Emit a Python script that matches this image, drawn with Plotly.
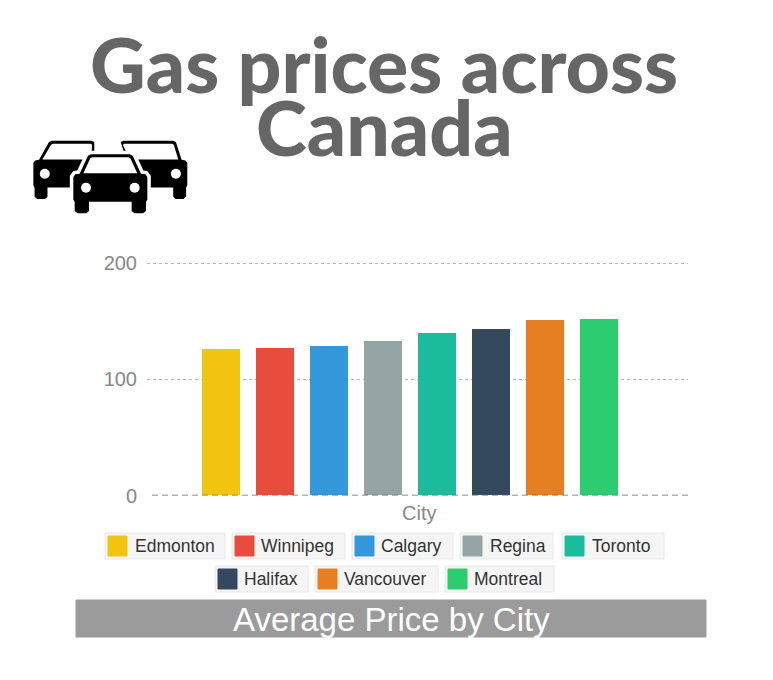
import plotly.graph_objects as go

W = 773
H = 680

cities = ['Edmonton', 'Winnipeg', 'Calgary', 'Regina', 'Toronto', 'Halifax', 'Vancouver', 'Montreal']
prices = [126, 127, 129, 133, 139.5, 143.5, 151, 152]
colors = ['#f1c40f', '#e74c3c', '#3498db', '#95a5a6', '#1abc9c', '#34495e', '#e67e22', '#2ecc71']
y_ticks = [0, 100, 200]

# legend chips drawn by hand, plotly legend can't do the boxed look: left, right, text start, top
chip_left = [105, 232, 352, 460, 562, 215, 315, 445]
chip_right = [225, 345, 453, 553, 664, 308, 438, 554]
chip_text = [133, 259, 379, 488, 590, 242, 342, 472]
chip_top = [533, 533, 533, 533, 533, 566, 566, 566]


def px(x):
    return x / W


def py(y):
    return 1 - y / H


def rect(x0, y0, x1, y1, fill, line=None):
    return dict(type='rect', xref='paper', yref='paper', x0=px(x0), x1=px(x1), y0=py(y0), y1=py(y1),
                fillcolor=fill, line=dict(color=line or fill, width=1), layer='above')


def poly(points, fill, line=None, width=0):
    path = 'M ' + ' L '.join(f'{px(a):.5f},{py(b):.5f}' for a, b in points) + ' Z'
    return dict(type='path', xref='paper', yref='paper', path=path, fillcolor=fill,
                line=dict(color=line or fill, width=width), layer='above')


def dot(cx, cy, r, fill):
    return dict(type='circle', xref='paper', yref='paper', x0=px(cx - r), x1=px(cx + r),
                y0=py(cy - r), y1=py(cy + r), fillcolor=fill, line=dict(width=0), layer='above')


def car(cx, top, sx, sy, roof=(-58, 58), halo=False):
    def p(a, b):
        return cx + a * sx, top + b * sy
    rl, rr = roof
    outer = [p(rl, 0), p(rr, 0), p(rr + 9, 4), p(92, 58), p(105, 60), p(111, 68), p(111, 136),
             p(107, 142), p(107, 170), p(98, 177), p(72, 177), p(64, 170), p(64, 142),
             p(-64, 142), p(-64, 170), p(-72, 177), p(-98, 177), p(-107, 170), p(-107, 142),
             p(-111, 136), p(-111, 68), p(-105, 60), p(-92, 58), p(rl - 9, 4)]
    window = [p(rl + 4, 9), p(rr - 4, 9), p(rr + 2, 12), p(81, 57), p(-81, 57), p(rl - 2, 12)]
    out = []
    if halo:
        out.append(poly(outer, '#ffffff', '#ffffff', 7))
    out.append(poly(outer, '#000000'))
    out.append(poly(window, '#ffffff'))
    out.append(dot(*p(-73, 100), 5, '#ffffff'))
    out.append(dot(*p(73, 100), 5, '#ffffff'))
    return out


fig = go.Figure(go.Bar(x=list(range(len(cities))), y=prices, width=0.704, marker_color=colors,
                       marker_line_width=0, text=cities, textposition='none', hoverinfo='text+y'))

shapes = []
# back cars then front car
shapes += car(20 + 140 / 3, 120 + 62 / 3, 0.3, 0.33, roof=(-50, 83))
shapes += car(20 + 402 / 3, 120 + 62 / 3, 0.3, 0.33, roof=(-102, 64))
shapes += car(20 + 271 / 3, 120 + 103 / 3, 1 / 3, 1 / 3, halo=True)

# banner and zero line
shapes.append(rect(76, 600, 706, 637, '#9b9b9b'))
shapes.append(dict(type='line', xref='paper', yref='y', x0=px(152), x1=px(688), y0=0, y1=0,
                   line=dict(color='#666666', width=1.5, dash='6px,4px'), layer='above'))

annotations = [
    dict(text='Gas prices across', x=px(384), y=py(63), font=dict(family='Lato', size=77, color='#666666', weight=900)),
    dict(text='Canada', x=px(384), y=py(126), font=dict(family='Lato', size=77, color='#666666', weight=900)),
    dict(text='Average Price by City', x=px(391), y=py(619), font=dict(family='Liberation Sans', size=33, color='#ffffff')),
    dict(text='City', x=px(419), y=py(513), font=dict(family='Liberation Sans', size=20, color='#888888')),
]

for i, city in enumerate(cities):
    top = chip_top[i]
    shapes.append(rect(chip_left[i], top, chip_right[i], top + 26, '#f5f5f5', '#e8e8e8'))
    shapes.append(rect(chip_left[i] + 3, top + 3, chip_left[i] + 22, top + 23, colors[i]))
    annotations.append(dict(text=city, x=px(chip_text[i]), y=py(top + 13), xanchor='left',
                            font=dict(family='Liberation Sans', size=17.5, color='#333333')))

for a in annotations:
    a.update(xref='paper', yref='paper', showarrow=False)
    a.setdefault('xanchor', 'center')
    a.setdefault('yanchor', 'middle')

fig.update_layout(
    width=W, height=H, margin=dict(l=0, r=0, t=0, b=0, autoexpand=False), paper_bgcolor='white', plot_bgcolor='white',
    showlegend=False, shapes=shapes, annotations=annotations, bargap=0,
    xaxis=dict(domain=[px(147), px(688)], range=[(147 - 221) / 54, (688 - 221) / 54], showgrid=False,
               zeroline=False, showticklabels=False, ticks=''),
    yaxis=dict(domain=[py(495.5), py(262.3)], range=[0, 201], tickvals=y_ticks, zeroline=False,
               gridcolor='#b5b5b5', griddash='dot', gridwidth=1, ticks='outside', ticklen=5, tickcolor='white',
               tickfont=dict(family='Liberation Sans', size=20, color='#888888')),
)

fig.write_html("out.html", config=dict(displayModeBar=False),
               post_script="document.body.style.margin='0';document.body.style.overflow='hidden';")
